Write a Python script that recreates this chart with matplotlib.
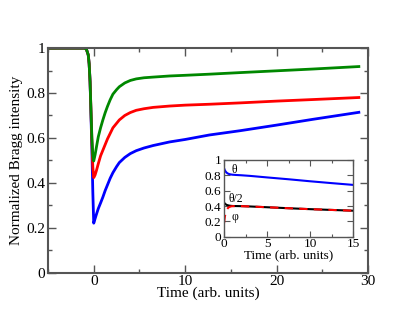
import matplotlib
matplotlib.use('Agg')
import matplotlib.pyplot as plt
from matplotlib.ticker import MultipleLocator

plt.rcParams['font.family'] = ['Liberation Serif', 'DejaVu Serif']

# main panel
t_main = [-5, -1.0, -0.8, -0.6, -0.5, -0.4, -0.3, -0.2, -0.1, 0.0, 0.15, 0.3, 0.5, 0.75, 1.0, 1.25,
          1.5, 1.8, 2.1, 2.5, 2.8, 3.4, 4.0, 4.65, 5.5, 6.5, 8.3, 10.0, 12.65, 16.0, 20.0, 24.0, 29.0]
green = [1.0, 1.0, 0.995, 0.97, 0.93, 0.85, 0.72, 0.60, 0.52, 0.497, 0.525, 0.56, 0.605, 0.645, 0.68, 0.712,
         0.74, 0.77, 0.795, 0.815, 0.828, 0.845, 0.856, 0.863, 0.868, 0.871, 0.876, 0.879, 0.884, 0.891, 0.899, 0.907, 0.918]
red = [1.0, 1.0, 0.995, 0.97, 0.93, 0.85, 0.72, 0.58, 0.47, 0.423, 0.435, 0.455, 0.485, 0.52, 0.545, 0.57,
       0.595, 0.62, 0.645, 0.665, 0.68, 0.70, 0.713, 0.723, 0.73, 0.736, 0.742, 0.746, 0.75, 0.756, 0.764, 0.771, 0.78]
blue = [1.0, 1.0, 0.995, 0.97, 0.93, 0.85, 0.70, 0.55, 0.36, 0.22, 0.24, 0.26, 0.285, 0.31, 0.336, 0.365,
        0.39, 0.42, 0.445, 0.472, 0.49, 0.513, 0.53, 0.543, 0.555, 0.566, 0.582, 0.593, 0.613, 0.632, 0.657, 0.683, 0.714]

# inset
t_in = [0.0, 0.05, 0.1, 0.2, 0.3, 0.45, 0.6, 0.8, 1.0, 1.5, 2.0, 3.0, 5.0, 7.5, 10.0, 12.5, 15.0]
theta = [0.89, 0.875, 0.862, 0.845, 0.833, 0.822, 0.815, 0.81, 0.807, 0.803, 0.80, 0.792, 0.772, 0.748, 0.722, 0.698, 0.675]
half_theta = [0.445, 0.438, 0.432, 0.422, 0.415, 0.41, 0.406, 0.403, 0.401, 0.40, 0.399, 0.395, 0.385, 0.372, 0.36, 0.35, 0.34]
phi = [0.18, 0.23, 0.27, 0.32, 0.35, 0.375, 0.388, 0.396, 0.399, 0.40, 0.399, 0.395, 0.385, 0.372, 0.36, 0.35, 0.34]

spine_c = '#555555'
ylabels = ['0', '0.2', '0.4', '0.6', '0.8', '1']

fig = plt.figure(figsize=(4.15, 3.21), dpi=100)
ax = fig.add_axes([0.1157, 0.151, 0.771, 0.699])
ax.plot(t_main, blue, color='#0000ff', lw=2)
ax.plot(t_main, red, color='#ff0000', lw=2)
ax.plot(t_main, green, color='#008800', lw=2)
ax.set_xlim(-5, 30)
ax.set_ylim(0, 1)
ax.xaxis.set_major_locator(MultipleLocator(10))
ax.xaxis.set_minor_locator(MultipleLocator(5))
ax.set_yticks([0, 0.2, 0.4, 0.6, 0.8, 1.0])
ax.set_yticklabels(ylabels)
ax.yaxis.set_minor_locator(MultipleLocator(0.1))
ax.tick_params(which='both', direction='in', top=True, right=True, color=spine_c, labelsize=11, pad=2)
ax.tick_params(which='major', length=6, width=1)
ax.tick_params(which='minor', length=3, width=1)
for s in ax.spines.values():
    s.set_color(spine_c)
    s.set_linewidth(1.5)
ax.set_xlabel('Time (arb. units)', fontsize=11, labelpad=-1)
ax.set_ylabel('Normalized Bragg intensity', fontsize=11, labelpad=2)

ins = fig.add_axes([0.54, 0.262, 0.311, 0.24])
ins.plot(t_in, theta, color='#0000ff', lw=1.5)
ins.plot(t_in, half_theta, color='black', lw=1.5)
ins.plot(t_in, phi, color='#ff0000', lw=1.5, dashes=(4, 3))
ins.set_xlim(0, 15)
ins.set_ylim(0, 1)
ins.xaxis.set_major_locator(MultipleLocator(5))
ins.xaxis.set_minor_locator(MultipleLocator(2.5))
ins.set_yticks([0, 0.2, 0.4, 0.6, 0.8, 1.0])
ins.set_yticklabels(ylabels)
ins.tick_params(which='both', direction='in', top=True, right=True, color=spine_c, labelsize=9.5)
ins.tick_params(axis='y', pad=2)
ins.tick_params(axis='x', pad=1)
ins.tick_params(which='major', length=4, width=0.8)
ins.tick_params(which='minor', length=2, width=0.8)
for s in ins.spines.values():
    s.set_color(spine_c)
    s.set_linewidth(1)
ins.set_xlabel('Time (arb. units)', fontsize=9.5, labelpad=-1)
ins.text(0.9, 0.87, 'θ', fontsize=8.5, va='center')
ins.text(0.55, 0.49, 'θ/2', fontsize=8.5, va='center')
ins.text(0.9, 0.26, 'φ', fontsize=8.5, va='center')

fig.savefig('out.png', dpi=100)
